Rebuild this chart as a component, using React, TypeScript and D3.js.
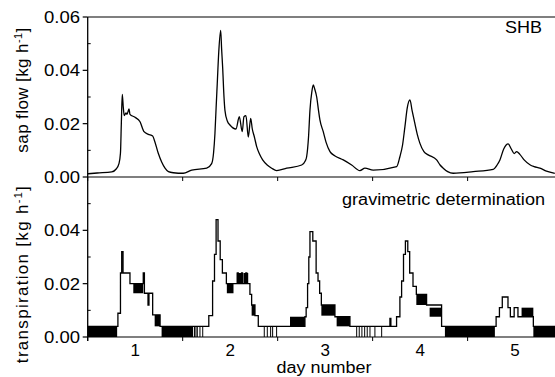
import React from "react";
import * as d3 from "d3";

// ---- data ----
const sapDays = [0.5, 0.6, 0.753, 0.8, 0.829, 0.845, 0.854, 0.864, 0.875, 0.885, 0.903, 0.914, 0.935, 0.945, 0.998, 1.051, 1.093, 1.138, 1.184, 1.2, 1.243, 1.28, 1.314, 1.35, 1.401, 1.506, 1.595, 1.753, 1.805, 1.825, 1.84, 1.852, 1.864, 1.88, 1.9, 1.91, 1.921, 1.935, 1.945, 1.97, 1.998, 2.061, 2.096, 2.127, 2.145, 2.166, 2.191, 2.216, 2.233, 2.255, 2.279, 2.31, 2.342, 2.39, 2.437, 2.489, 2.595, 2.753, 2.79, 2.805, 2.825, 2.84, 2.86, 2.875, 2.89, 2.911, 2.93, 2.945, 2.98, 3.01, 3.051, 3.1, 3.191, 3.279, 3.366, 3.419, 3.506, 3.753, 3.787, 3.815, 3.84, 3.865, 3.893, 3.915, 3.945, 3.97, 3.998, 4.04, 4.085, 4.174, 4.21, 4.243, 4.29, 4.348, 4.559, 4.769, 4.81, 4.84, 4.88, 4.927, 4.96, 4.99, 5.016, 5.05, 5.095, 5.16, 5.2, 5.261, 5.33, 5.418];
const sapValues = [0.0012, 0.0015, 0.0019, 0.003, 0.005, 0.009, 0.02, 0.031, 0.026, 0.023, 0.024, 0.0235, 0.0255, 0.0235, 0.0224, 0.0207, 0.017, 0.016, 0.0154, 0.014, 0.0089, 0.0055, 0.0033, 0.002, 0.0016, 0.0014, 0.0026, 0.0033, 0.005, 0.009, 0.0165, 0.026, 0.035, 0.047, 0.055, 0.048, 0.041, 0.03, 0.025, 0.021, 0.0195, 0.018, 0.0226, 0.017, 0.0226, 0.023, 0.015, 0.022, 0.018, 0.015, 0.0114, 0.0085, 0.0064, 0.0045, 0.0033, 0.0024, 0.0033, 0.0045, 0.006, 0.0076, 0.015, 0.025, 0.032, 0.0345, 0.033, 0.03, 0.025, 0.0214, 0.017, 0.013, 0.0095, 0.008, 0.0064, 0.0045, 0.0024, 0.0033, 0.0026, 0.0039, 0.0076, 0.012, 0.0189, 0.026, 0.0289, 0.025, 0.02, 0.016, 0.0126, 0.0095, 0.0083, 0.0064, 0.0045, 0.0033, 0.002, 0.0014, 0.002, 0.0029, 0.0045, 0.0064, 0.0105, 0.0124, 0.0105, 0.0088, 0.0095, 0.0085, 0.0064, 0.0045, 0.0039, 0.0033, 0.0022, 0.0014];

const trDays = [0.5, 0.818, 0.845, 0.858, 0.872, 0.945, 1.085, 1.097, 1.135, 1.145, 1.184, 1.262, 1.775, 1.815, 1.835, 1.852, 1.872, 1.895, 1.918, 1.96, 2.075, 2.085, 2.12, 2.13, 2.165, 2.175, 2.208, 2.226, 2.261, 2.296, 2.787, 2.8, 2.815, 2.828, 2.84, 2.87, 2.905, 2.925, 2.942, 2.96, 3.103, 3.261, 3.682, 3.692, 3.752, 3.787, 3.805, 3.825, 3.845, 3.87, 3.89, 3.925, 3.96, 4.068, 4.226, 4.8, 4.835, 4.865, 4.925, 4.95, 4.99, 5.03, 5.192, 5.42];
const trValues = [0.004, 0.0089, 0.024, 0.032, 0.024, 0.02, 0.024, 0.0164, 0.012, 0.0164, 0.0083, 0.004, 0.008, 0.021, 0.031, 0.044, 0.036, 0.029, 0.024, 0.02, 0.024, 0.02, 0.024, 0.02, 0.024, 0.02, 0.016, 0.012, 0.008, 0.004, 0.0076, 0.011, 0.02, 0.03, 0.0395, 0.036, 0.024, 0.021, 0.0164, 0.012, 0.0076, 0.004, 0.007, 0.004, 0.0076, 0.015, 0.021, 0.031, 0.036, 0.032, 0.024, 0.019, 0.016, 0.012, 0.004, 0.0076, 0.011, 0.015, 0.011, 0.0076, 0.011, 0.0076, 0.004, 0.004];

// dense-oscillation bands (black fill)
const bandStart = [0.5, 0.98, 1.205, 1.278, 1.965, 2.07, 2.14, 2.226, 2.63, 2.96, 3.121, 3.96, 4.1, 4.261, 5.068, 5.192];
const bandEnd = [0.81, 1.085, 1.262, 1.61, 2.035, 2.12, 2.19, 2.261, 2.787, 3.103, 3.261, 4.068, 4.226, 4.787, 5.192, 5.42];
const bandLo = [0, 0.0164, 0.004, 0, 0.0164, 0.02, 0.02, 0.008, 0.004, 0.008, 0.004, 0.012, 0.0076, 0, 0.0076, 0];
const bandHi = [0.004, 0.02, 0.0083, 0.004, 0.02, 0.024, 0.024, 0.012, 0.0076, 0.012, 0.0076, 0.016, 0.011, 0.004, 0.011, 0.004];

// isolated drops to zero
const dropDays = [1.625, 1.64, 1.654, 1.682, 1.711, 2.359, 2.391, 2.426, 2.447, 2.489, 3.332, 3.359, 3.387, 3.416, 3.443, 3.472, 3.524, 3.595];
const dropLevel = 0.004;

const dayLabels = [1, 2, 3, 4, 5];
const halfDayTicks = [0.5, 1.5, 2.5, 3.5, 4.5];
const yMajorTop = [0, 0.02, 0.04, 0.06];
const yMajorBottom = [0, 0.02, 0.04];
const yMinor = [0.01, 0.03, 0.05];

const W = 555;
const H = 377;
const FONT = "'Liberation Sans', Arial, Helvetica, sans-serif";

export default function App() {
  const x = d3.scaleLinear().domain([0.5, 5.42]).range([87.7, 555]);
  const yTop = d3.scaleLinear().domain([0, 0.06]).range([177, 17]);
  const yBot = d3.scaleLinear().domain([0, 0.06]).range([337, 177]);

  const sapLine = d3
    .line<number>()
    .x((d, i) => x(sapDays[i]))
    .y((d) => yTop(d))
    .curve(d3.curveMonotoneX)(sapValues);

  const trLine = d3
    .line<number>()
    .x((d, i) => x(trDays[i]))
    .y((d) => yBot(d))
    .curve(d3.curveStepAfter)(trValues);

  const x0 = x(0.5);
  const x1 = W;
  const fmt = d3.format(".2f");

  return (
    <svg
      width={W}
      height={H}
      style={{ position: "absolute", left: 0, top: 0, background: "#fff" }}
      fontFamily={FONT}
    >
      {/* frame lines */}
      <line x1={x0} x2={x1} y1={yTop(0.06)} y2={yTop(0.06)} stroke="#000" strokeWidth={1.2} />
      <line x1={x0} x2={x1} y1={yTop(0)} y2={yTop(0)} stroke="#000" strokeWidth={1.2} />
      <line x1={x0} x2={x1} y1={yBot(0)} y2={yBot(0)} stroke="#000" strokeWidth={1.2} />
      <line x1={x0} x2={x0} y1={yTop(0.06)} y2={yBot(0) + 4} stroke="#000" strokeWidth={1.3} />

      {/* y ticks top */}
      {yMajorTop.map((v) => (
        <g key={"yt" + v}>
          <line x1={x0 - 5} x2={x0} y1={yTop(v)} y2={yTop(v)} stroke="#000" strokeWidth={1.2} />
          <text x={80} y={yTop(v) + 6} fontSize={16} textAnchor="end" textLength={36} lengthAdjust="spacingAndGlyphs">
            {fmt(v)}
          </text>
        </g>
      ))}
      {yMajorBottom.map((v) => (
        <g key={"yb" + v}>
          <line x1={x0 - 5} x2={x0} y1={yBot(v)} y2={yBot(v)} stroke="#000" strokeWidth={1.2} />
          <text x={80} y={yBot(v) + 6} fontSize={16} textAnchor="end" textLength={36} lengthAdjust="spacingAndGlyphs">
            {fmt(v)}
          </text>
        </g>
      ))}
      {yMinor.map((v) => (
        <g key={"ym" + v}>
          <line x1={x0} x2={x0 + 3} y1={yTop(v)} y2={yTop(v)} stroke="#000" strokeWidth={1} />
          <line x1={x0} x2={x0 + 3} y1={yBot(v)} y2={yBot(v)} stroke="#000" strokeWidth={1} />
        </g>
      ))}

      {/* x ticks */}
      {halfDayTicks.map((d) => (
        <g key={"xt" + d}>
          <line x1={x(d)} x2={x(d)} y1={yTop(0)} y2={yTop(0) + 4} stroke="#000" strokeWidth={1} />
          <line x1={x(d)} x2={x(d)} y1={yBot(0)} y2={yBot(0) + 4} stroke="#000" strokeWidth={1} />
        </g>
      ))}
      {dayLabels.map((d) => (
        <text key={"xl" + d} x={x(d)} y={356} fontSize={17} textAnchor="middle">
          {d}
        </text>
      ))}

      {/* sap flow */}
      <path d={sapLine ?? ""} fill="none" stroke="#000" strokeWidth={1.3} strokeLinejoin="round" />

      {/* transpiration bands */}
      {bandStart.map((s, i) => (
        <rect
          key={"b" + i}
          x={x(s)}
          width={x(bandEnd[i]) - x(s)}
          y={yBot(bandHi[i])}
          height={yBot(bandLo[i]) - yBot(bandHi[i])}
          fill="#000"
        />
      ))}
      {dropDays.map((d, i) => (
        <line key={"dr" + i} x1={x(d)} x2={x(d)} y1={yBot(0)} y2={yBot(dropLevel)} stroke="#000" strokeWidth={1} />
      ))}
      <path d={trLine ?? ""} fill="none" stroke="#000" strokeWidth={1.3} />

      {/* labels */}
      <text x={505} y={33} fontSize={17} textLength={37} lengthAdjust="spacingAndGlyphs">
        SHB
      </text>
      <text x={342} y={205} fontSize={16} textLength={203} lengthAdjust="spacingAndGlyphs">
        gravimetric determination
      </text>
      <text x={324} y={373} fontSize={16} textAnchor="middle" textLength={95} lengthAdjust="spacingAndGlyphs">
        day number
      </text>
      <text transform="translate(28,90) rotate(-90)" fontSize={17} textAnchor="middle" letterSpacing={0.4}>
        sap flow [kg h
        <tspan fontSize={11} dy={-6}>-1</tspan>
        <tspan dy={6}>]</tspan>
      </text>
      <text transform="translate(28,274) rotate(-90)" fontSize={17} textAnchor="middle" letterSpacing={1.3}>
        transpiration [kg h
        <tspan fontSize={11} dy={-6}>-1</tspan>
        <tspan dy={6}>]</tspan>
      </text>
    </svg>
  );
}
